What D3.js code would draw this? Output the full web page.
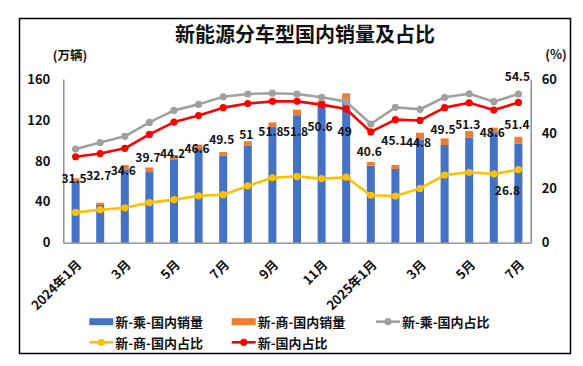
<!DOCTYPE html>
<html><head><meta charset="utf-8">
<script src="https://cdn.jsdelivr.net/npm/d3@7"></script>
<style>
html,body{margin:0;padding:0;background:#fff;}
text{font-family:"Noto Sans CJK SC","Noto Sans",sans-serif;}
</style></head>
<body><svg id="c" width="583" height="366"></svg>
<script>
const months = ["2024年1月","2月","3月","4月","5月","6月","7月","8月","9月","10月","11月","12月",
  "2025年1月","2月","3月","4月","5月","6月","7月"];
const passengerSales = [60, 37, 71, 69, 81.5, 91.6, 85, 95, 113, 124.6, 135, 139, 75.3, 72, 101, 95.5, 102.7, 108, 97];
const commercialSales = [3, 2, 5, 4.5, 4, 4.3, 3.6, 4.2, 4.5, 5.4, 4, 7, 3.6, 4, 6.5, 6.5, 6.5, 4.5, 6.5];
const passengerShare = [34.3, 36.7, 39, 44.1, 48.5, 50.7, 53.5, 54.5, 54.8, 54.5, 53.3, 51.7, 43.5, 49.6, 48.9, 53.3, 54.6, 51.7, 54.5];
const commercialShare = [11.1, 12.1, 12.8, 14.7, 15.8, 17.2, 17.6, 20.8, 23.8, 24.3, 23.5, 24, 17.4, 17.1, 19.9, 24.8, 25.8, 25.2, 26.8];
const totalShare = [31.5, 32.7, 34.6, 39.7, 44.2, 46.6, 49.5, 51, 51.8, 51.8, 50.6, 49, 40.6, 45.1, 44.8, 49.5, 51.3, 48.6, 51.4];
const leftTicks = [0, 40, 80, 120, 160];
const rightTicks = [0, 20, 40, 60];
const seriesNames = ["新-乘-国内销量","新-商-国内销量","新-乘-国内占比","新-商-国内占比","新-国内占比"];
// label offsets (px below the red point) for the 新-国内占比 labels
const redLabelDy = [21,21,21,22,30,32,31,30,29,29,21,21,19,20,21,21,20.5,21,21];

const colors = {blue:"#4472C4", orange:"#ED7D31", gray:"#A0A0A0", yellow:"#FFC000", red:"#FF0000"};
const svg = d3.select("#c");
const M = {left:63.3, right:530.7, top:79, bottom:242.7};

svg.append("rect").attr("x",19.5).attr("y",18.5).attr("width",551).attr("height",335)
  .attr("fill","#fff").attr("stroke","#000").attr("stroke-width",1.5);

svg.append("text").attr("x",305).attr("y",33.5).attr("text-anchor","middle")
  .attr("dominant-baseline","central").attr("font-size",20).attr("font-weight","bold")
  .attr("fill","#111").text("新能源分车型国内销量及占比");

const x = d3.scaleBand().domain(months.map((m,i)=>i)).range([M.left, M.right]).padding(0);
const yL = d3.scaleLinear().domain([0,160]).range([M.bottom, M.top]);
const yR = d3.scaleLinear().domain([0,60]).range([M.bottom, M.top]);
const cx = i => x(i) + x.bandwidth()/2;
const barW = 8;

// bars
const g = svg.append("g");
g.selectAll("rect.p").data(passengerSales).join("rect")
  .attr("x",(d,i)=>cx(i)-barW/2).attr("width",barW)
  .attr("y",d=>yL(d)).attr("height",d=>yL(0)-yL(d)).attr("fill",colors.blue);
g.selectAll("rect.c").data(commercialSales).join("rect")
  .attr("x",(d,i)=>cx(i)-barW/2).attr("width",barW)
  .attr("y",(d,i)=>yL(d+passengerSales[i])).attr("height",d=>yL(0)-yL(d)).attr("fill",colors.orange);

// axes
const axL = d3.axisLeft(yL).tickValues(leftTicks).tickSize(0).tickPadding(13);
const axR = d3.axisRight(yR).tickValues(rightTicks).tickSize(0).tickPadding(11);
const axB = d3.axisBottom(x).tickSize(0).tickFormat(i => i%2===0 ? months[i] : "");
function styleAxis(sel){
  sel.select(".domain").attr("stroke","#808080").attr("stroke-width",1.3);
  sel.selectAll("text").attr("font-size",13).attr("font-weight","bold").attr("fill","#111")
    .attr("font-family",'"Noto Sans CJK SC",sans-serif');
}
svg.append("g").attr("transform",`translate(${M.left},0)`).call(axL).call(styleAxis);
svg.append("g").attr("transform",`translate(${M.right},0)`).call(axR).call(styleAxis);
const gb = svg.append("g").attr("transform",`translate(0,${M.bottom})`).call(axB).call(styleAxis);
gb.selectAll(".tick text").attr("text-anchor","end").attr("dominant-baseline","central")
  .attr("dy",null).attr("y",0)
  .attr("transform","translate(3,19) rotate(-45)");

svg.append("text").attr("x",70).attr("y",54.5).attr("text-anchor","middle").attr("dominant-baseline","central")
  .attr("font-size",12.5).attr("font-weight","bold").attr("fill","#111").text("(万辆)");
svg.append("text").attr("x",556).attr("y",53.5).attr("text-anchor","middle").attr("dominant-baseline","central")
  .attr("font-size",12.5).attr("font-weight","bold").attr("fill","#111").text("(%)");

// lines
function drawLine(data, color){
  const line = d3.line().x((d,i)=>cx(i)).y(d=>yR(d));
  svg.append("path").datum(data).attr("d",line).attr("fill","none")
    .attr("stroke",color).attr("stroke-width",2.6).attr("stroke-linejoin","round");
  svg.append("g").selectAll("circle").data(data).join("circle")
    .attr("cx",(d,i)=>cx(i)).attr("cy",d=>yR(d)).attr("r",3.6).attr("fill",color);
}
drawLine(passengerShare, colors.gray);
drawLine(commercialShare, colors.yellow);
drawLine(totalShare, colors.red);

// labels
const lblFont = 12;
svg.append("g").selectAll("text").data(totalShare).join("text")
  .attr("x",(d,i)=>cx(i)-1.5).attr("y",(d,i)=>yR(d)+redLabelDy[i])
  .attr("text-anchor","middle").attr("dominant-baseline","central")
  .attr("font-size",lblFont).attr("font-weight","bold").attr("fill","#111").text(d=>d);
const last = months.length-1;
svg.append("text").attr("x",cx(last)-1).attr("y",yR(passengerShare[last])-19)
  .attr("text-anchor","middle").attr("dominant-baseline","central")
  .attr("font-size",lblFont).attr("font-weight","bold").attr("fill","#111").text(passengerShare[last]);
svg.append("text").attr("x",cx(last)-11).attr("y",yR(commercialShare[last])+20)
  .attr("text-anchor","middle").attr("dominant-baseline","central")
  .attr("font-size",lblFont).attr("font-weight","bold").attr("fill","#111").text(commercialShare[last]);

// legend
const legendItems = [
  {name:seriesNames[0], color:colors.blue, type:"bar", x:89.3, y:321.7},
  {name:seriesNames[1], color:colors.orange, type:"bar", x:231.7, y:321.7},
  {name:seriesNames[2], color:colors.gray, type:"line", x:376, y:321.7},
  {name:seriesNames[3], color:colors.yellow, type:"line", x:89.3, y:342.3},
  {name:seriesNames[4], color:colors.red, type:"line", x:231.7, y:342.3}
];
const lg = svg.append("g");
legendItems.forEach(it=>{
  if(it.type==="bar"){
    lg.append("rect").attr("x",it.x).attr("y",it.y-3.5).attr("width",24).attr("height",7).attr("fill",it.color);
  } else {
    lg.append("line").attr("x1",it.x).attr("x2",it.x+24).attr("y1",it.y).attr("y2",it.y)
      .attr("stroke",it.color).attr("stroke-width",2.6);
    lg.append("circle").attr("cx",it.x+12).attr("cy",it.y).attr("r",3.6).attr("fill",it.color);
  }
  lg.append("text").attr("x",it.x+26).attr("y",it.y).attr("dominant-baseline","central")
    .attr("font-size",13).attr("font-weight","bold").attr("fill","#111").text(it.name);
});
</script></body></html>
